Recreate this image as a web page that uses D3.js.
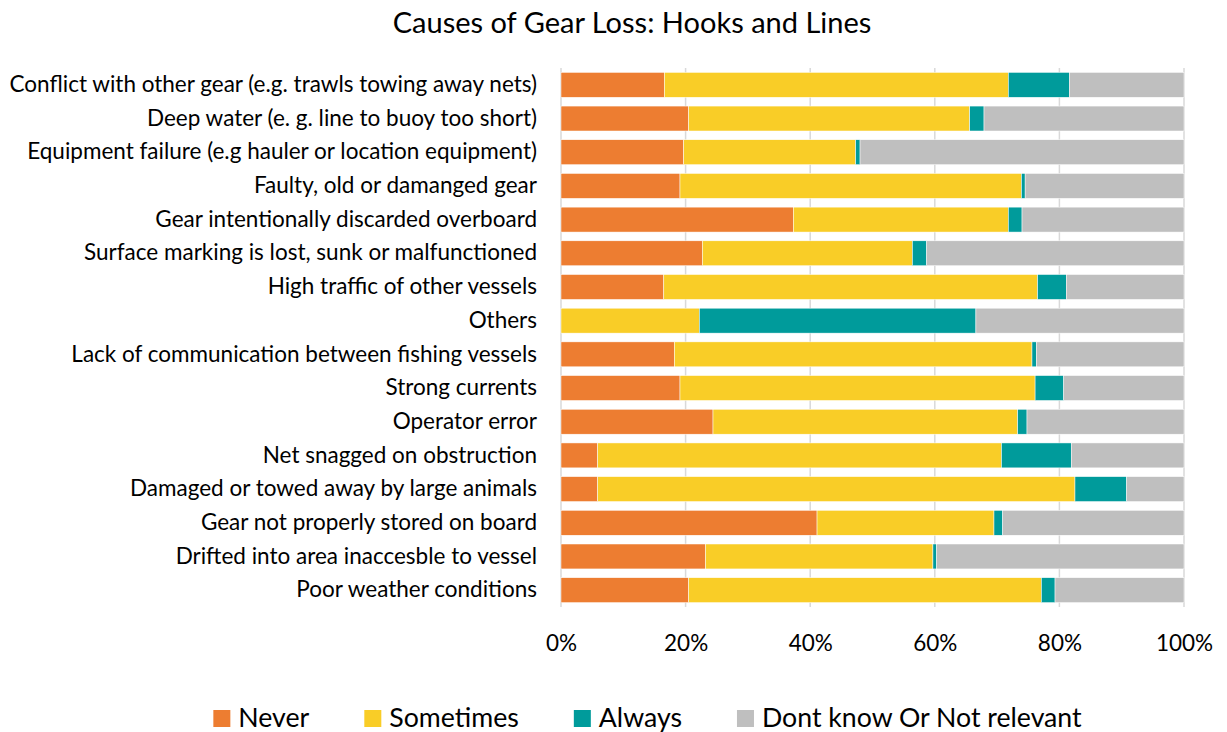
<!DOCTYPE html>
<html>
<head>
<meta charset="utf-8">
<script src="https://cdn.jsdelivr.net/npm/d3@7"></script>
<style>
  body { margin: 0; background: #fff; }
  text { font-family: Lato, "Open Sans", sans-serif; fill: #000; }
</style>
</head>
<body>
<div id="main"></div>
<script>
// chart data (percent of respondents)
const causes = [
  "Conflict with other gear (e.g. trawls towing away nets)",
  "Deep water (e. g. line to buoy too short)",
  "Equipment failure (e.g hauler or location equipment)",
  "Faulty, old or damanged gear",
  "Gear intentionally discarded overboard",
  "Surface marking is lost, sunk or malfunctioned",
  "High traffic of other vessels",
  "Others",
  "Lack of communication between fishing vessels",
  "Strong currents",
  "Operator error",
  "Net snagged on obstruction",
  "Damaged or towed away by large animals",
  "Gear not properly stored on board",
  "Drifted into area inaccesble to vessel",
  "Poor weather conditions"
];
const never     = [16.6, 20.5, 19.7, 19.1, 37.3, 22.7, 16.5, 0.0, 18.2, 19.1, 24.4, 5.9, 5.9, 41.1, 23.2, 20.5];
const sometimes = [55.2, 45.1, 27.6, 54.8, 34.5, 33.7, 60.0, 22.2, 57.4, 57.0, 48.9, 64.8, 76.6, 28.4, 36.5, 56.6];
const always    = [9.8, 2.3, 0.7, 0.6, 2.2, 2.3, 4.6, 44.4, 0.7, 4.6, 1.5, 11.2, 8.3, 1.4, 0.6, 2.2];
const dontKnow  = [18.4, 32.1, 52.0, 25.5, 26.0, 41.3, 18.9, 33.4, 23.7, 19.3, 25.2, 18.1, 9.2, 29.1, 39.7, 20.7];

const seriesNames = ["Never", "Sometimes", "Always", "Dont know Or Not relevant"];
const seriesKeys = ["never", "sometimes", "always", "dontKnow"];
const colors = ["#ED7D31", "#F9CD27", "#009B9B", "#BFBFBF"];
const xTicks = [0, 20, 40, 60, 80, 100];

const width = 1227, height = 732;
const plotLeft = 561, plotRight = 1184, plotTop = 68, plotBottom = 607;

// build rows for the stack
const rows = causes.map(function(c, i){
  return {cause: c, never: never[i], sometimes: sometimes[i], always: always[i], dontKnow: dontKnow[i]};
});

const svg = d3.select('#main').append('svg')
  .attr('width', width).attr('height', height);

// title
svg.append('text')
  .attr('x', 632).attr('y', 33)
  .attr('text-anchor', 'middle')
  .style('font-size', '29px')
  .text("Causes of Gear Loss: Hooks and Lines");

const xScale = d3.scaleLinear().domain([0, 100]).range([plotLeft, plotRight]);
const yScale = d3.scaleBand().domain(causes).range([plotTop, plotBottom]).paddingInner(0.26).paddingOuter(0.13);

// gridlines
svg.append('g').selectAll('line').data(xTicks)
  .enter().append('line')
  .attr('x1', d => xScale(d)).attr('x2', d => xScale(d))
  .attr('y1', plotTop).attr('y2', plotBottom)
  .attr('stroke', '#d9d9d9').attr('stroke-width', 1.5);

// stacked bars
const stack = d3.stack().keys(seriesKeys)(rows);
svg.append('g').selectAll('g').data(stack)
  .enter().append('g')
  .attr('fill', (d, i) => colors[i])
  .selectAll('rect').data(d => d)
  .enter().append('rect')
  .attr('x', d => xScale(d[0]))
  .attr('width', d => Math.max(0, xScale(d[1]) - xScale(d[0])))
  .attr('y', d => yScale(d.data.cause))
  .attr('height', yScale.bandwidth())
  .attr('stroke', '#fff').attr('stroke-width', 0.5);

// y axis labels
const yAxis = d3.axisLeft(yScale).tickSize(0).tickPadding(24);
const yg = svg.append('g').attr('transform', 'translate(' + plotLeft + ',0)').call(yAxis);
yg.select('.domain').remove();
yg.selectAll('text').style('font-size', '22.5px').style('font-family', 'Lato, sans-serif').attr('fill', '#000');

// x axis labels
const xAxis = d3.axisBottom(xScale).tickValues(xTicks).tickSize(0).tickPadding(28).tickFormat(d => d + '%');
const xg = svg.append('g').attr('transform', 'translate(0,' + plotBottom + ')').call(xAxis);
xg.select('.domain').remove();
xg.selectAll('text').style('font-size', '22.5px').style('font-family', 'Lato, sans-serif').attr('fill', '#000');

// legend
const legend = svg.append('g').attr('id', 'legend');
let lx = 0;
seriesNames.forEach(function(name, i){
  const item = legend.append('g').attr('transform', 'translate(' + lx + ',0)');
  item.append('rect').attr('x', 0).attr('y', -17).attr('width', 17).attr('height', 17).attr('fill', colors[i]);
  const t = item.append('text').attr('x', 25).attr('y', 0).style('font-size', '26.7px').text(name);
  lx += 25 + t.node().getComputedTextLength() + 55;
});
const legendWidth = lx - 55;
legend.attr('transform', 'translate(' + (647.5 - legendWidth / 2) + ',727)');
</script>
</body>
</html>
